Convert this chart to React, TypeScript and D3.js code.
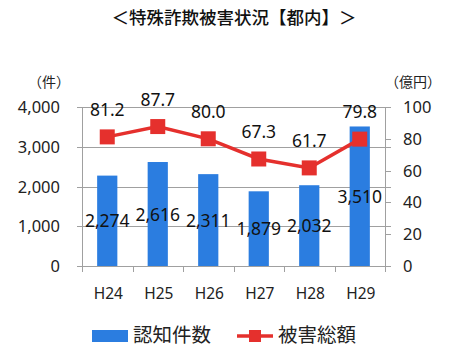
import { useEffect, useRef } from "react"
import * as d3 from "d3"

const years = ["H24", "H25", "H26", "H27", "H28", "H29"]
const cases = [2274, 2616, 2311, 1879, 2032, 3510]
const damage = [81.2, 87.7, 80.0, 67.3, 61.7, 79.8]
const leftTicks = [0, 1000, 2000, 3000, 4000]
const rightTicks = [0, 20, 40, 60, 80, 100]

const BLUE = "#2b7de0"
const RED = "#e5302d"
const FONT = "'Noto Sans CJK JP', 'Noto Sans', sans-serif"
const NUM_FONT = "'Noto Sans', 'Open Sans', sans-serif"

export default function App() {
  const svgRef = useRef<SVGSVGElement>(null)

  useEffect(() => {
    if (!svgRef.current) return
    const svg = d3.select(svgRef.current)
    svg.selectAll("*").remove()

    const width = 466
    const height = 351
    const left = 82
    const right = 385
    const top = 107
    const bottom = 266

    svg.attr("width", width).attr("height", height)

    // Scales
    const x = d3.scaleBand<string>().domain(years).range([left, right]).paddingInner(0.6).paddingOuter(0.3)
    const xOuter = d3.scaleBand<string>().domain(years).range([left, right])
    const yLeft = d3.scaleLinear().domain([0, 4000]).range([bottom, top])
    const yRight = d3.scaleLinear().domain([0, 100]).range([bottom, top])

    // Title
    svg
      .append("text")
      .attr("x", 234)
      .attr("y", 24)
      .attr("text-anchor", "middle")
      .style("font-family", FONT)
      .style("font-size", "17.5px")
      .style("font-weight", 500)
      .attr("fill", "#111")
      .text("＜特殊詐欺被害状況【都内】＞")

    // Unit labels
    svg
      .append("text")
      .attr("x", 28)
      .attr("y", 87)
      .style("font-family", FONT)
      .style("font-size", "14px")
      .attr("fill", "#222")
      .text("（件）")
    svg
      .append("text")
      .attr("x", 385)
      .attr("y", 87)
      .style("font-family", FONT)
      .style("font-size", "14px")
      .attr("fill", "#222")
      .text("（億円）")

    // Gridlines
    svg
      .append("g")
      .selectAll("line")
      .data(leftTicks)
      .enter()
      .append("line")
      .attr("x1", left - 5)
      .attr("x2", right + 6)
      .attr("y1", (d) => Math.round(yLeft(d)) + 0.5)
      .attr("y2", (d) => Math.round(yLeft(d)) + 0.5)
      .attr("stroke", "#a0a0a0")
      .attr("stroke-width", 1)

    // Right ticks
    svg
      .append("g")
      .selectAll("line")
      .data(rightTicks)
      .enter()
      .append("line")
      .attr("x1", right)
      .attr("x2", right + 6)
      .attr("y1", (d) => Math.round(yRight(d)) + 0.5)
      .attr("y2", (d) => Math.round(yRight(d)) + 0.5)
      .attr("stroke", "#a0a0a0")

    // Axis lines
    svg
      .append("line")
      .attr("x1", left + 0.5)
      .attr("x2", left + 0.5)
      .attr("y1", top)
      .attr("y2", bottom + 6)
      .attr("stroke", "#a0a0a0")
    svg
      .append("line")
      .attr("x1", right + 0.5)
      .attr("x2", right + 0.5)
      .attr("y1", top)
      .attr("y2", bottom + 6)
      .attr("stroke", "#a0a0a0")

    // Category boundary ticks
    svg
      .append("g")
      .selectAll("line")
      .data(years.slice(1))
      .enter()
      .append("line")
      .attr("x1", (d) => Math.round(xOuter(d)!) + 0.5)
      .attr("x2", (d) => Math.round(xOuter(d)!) + 0.5)
      .attr("y1", bottom)
      .attr("y2", bottom + 6)
      .attr("stroke", "#a0a0a0")

    // Left tick labels
    svg
      .append("g")
      .selectAll("text")
      .data(leftTicks)
      .enter()
      .append("text")
      .attr("x", 60)
      .attr("y", (d) => yLeft(d) + 6)
      .attr("text-anchor", "end")
      .style("font-family", NUM_FONT)
      .style("font-size", "16.5px")
      .attr("fill", "#222")
      .text((d) => d3.format(",")(d))

    // Right tick labels
    svg
      .append("g")
      .selectAll("text")
      .data(rightTicks)
      .enter()
      .append("text")
      .attr("x", 403)
      .attr("y", (d) => yRight(d) + 6)
      .style("font-family", NUM_FONT)
      .style("font-size", "16.5px")
      .attr("fill", "#222")
      .text((d) => d)

    // X labels
    svg
      .append("g")
      .selectAll("text")
      .data(years)
      .enter()
      .append("text")
      .attr("x", (d) => xOuter(d)! + xOuter.bandwidth() / 2 + 1)
      .attr("y", 299)
      .attr("text-anchor", "middle")
      .style("font-family", NUM_FONT)
      .style("font-size", "15.5px")
      .attr("fill", "#222")
      .text((d) => d)

    // Bars
    svg
      .append("g")
      .selectAll("rect")
      .data(cases)
      .enter()
      .append("rect")
      .attr("x", (d, i) => x(years[i])!)
      .attr("y", (d) => yLeft(d))
      .attr("width", x.bandwidth())
      .attr("height", (d) => bottom - yLeft(d))
      .attr("fill", BLUE)

    // Line
    const cx = (i: number) => xOuter(years[i])! + xOuter.bandwidth() / 2
    const line = d3
      .line<number>()
      .x((d, i) => cx(i))
      .y((d) => yRight(d))
    svg
      .append("path")
      .datum(damage)
      .attr("d", line)
      .attr("fill", "none")
      .attr("stroke", RED)
      .attr("stroke-width", 3.5)

    svg
      .append("g")
      .selectAll("rect")
      .data(damage)
      .enter()
      .append("rect")
      .attr("x", (d, i) => cx(i) - 7.5)
      .attr("y", (d) => yRight(d) - 7.5)
      .attr("width", 15)
      .attr("height", 15)
      .attr("fill", RED)

    // Bar labels (centered in bar)
    svg
      .append("g")
      .selectAll("text")
      .data(cases)
      .enter()
      .append("text")
      .attr("x", (d, i) => cx(i))
      .attr("y", (d) => (yLeft(d) + bottom) / 2 + 6.5)
      .attr("text-anchor", "middle")
      .style("font-family", NUM_FONT)
      .style("font-size", "17.5px")
      .attr("fill", "#111")
      .text((d) => d3.format(",")(d))

    // Line labels
    svg
      .append("g")
      .selectAll("text")
      .data(damage)
      .enter()
      .append("text")
      .attr("x", (d, i) => cx(i))
      .attr("y", (d) => yRight(d) - 21)
      .attr("text-anchor", "middle")
      .style("font-family", NUM_FONT)
      .style("font-size", "17.5px")
      .attr("fill", "#111")
      .text((d) => d.toFixed(1))

    // Legend
    const lg = svg.append("g")
    lg.append("rect").attr("x", 92).attr("y", 330).attr("width", 36).attr("height", 12).attr("fill", BLUE)
    lg.append("text")
      .attr("x", 133)
      .attr("y", 342)
      .style("font-family", FONT)
      .style("font-size", "19.5px")
      .attr("fill", "#222")
      .text("認知件数")
    lg.append("line")
      .attr("x1", 237)
      .attr("x2", 273)
      .attr("y1", 336)
      .attr("y2", 336)
      .attr("stroke", RED)
      .attr("stroke-width", 3.5)
    lg.append("rect").attr("x", 249).attr("y", 330).attr("width", 12).attr("height", 12).attr("fill", RED)
    lg.append("text")
      .attr("x", 278)
      .attr("y", 342)
      .style("font-family", FONT)
      .style("font-size", "19.5px")
      .attr("fill", "#222")
      .text("被害総額")
  }, [])

  return <svg ref={svgRef} style={{ position: "absolute", left: 0, top: 0, background: "#fff" }} />
}
